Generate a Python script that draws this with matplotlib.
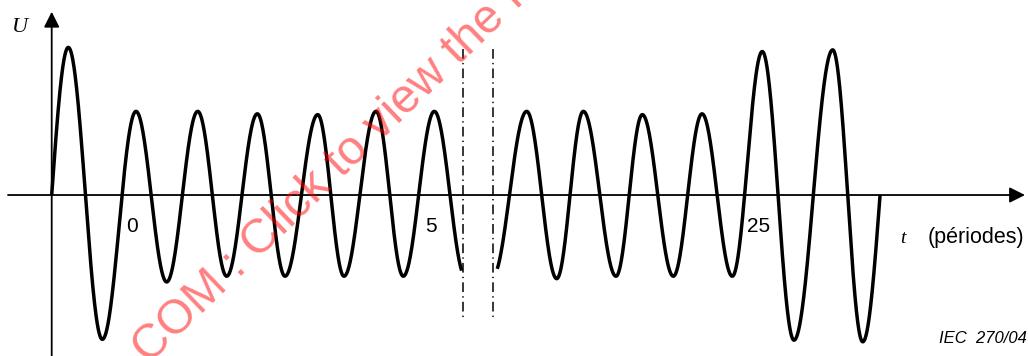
import numpy as np
import matplotlib
matplotlib.use("Agg")
import matplotlib.pyplot as plt

plt.rcParams['lines.scale_dashes'] = False

# ---------------- data (time in periods, U in units of the steady amplitude) ----------------
# part before the axis break: extremes of the recorded voltage
seg1_t = [-1.412, -1.134, -0.564, 0.000, 0.514, 1.034, 1.519, 2.032, 2.496, 3.044, 3.484, 4.020, 4.477, 4.997, 5.520]
seg1_u = [0.00, 1.80, -1.76, 1.02, -1.06, 1.02, -0.99, 0.99, -0.99, 0.98, -0.99, 1.02, -0.99, 1.02, -1.00]
seg1_end = 5.456
# part after the axis break
seg2_t = [20.48, 21.054, 21.557, 22.003, 22.550, 22.991, 23.510, 23.991, 24.498, 25.000, 25.531, 26.180, 26.683, 26.973]
seg2_u = [-1.00, 1.02, -1.02, 1.02, -0.99, 0.98, -0.99, 0.99, -0.99, 1.75, -1.77, 1.77, -1.79, 0.00]
seg2_start = 20.562
break_lines = [5.472, 20.495]          # dash-dot break markers (periods)
tick_values = [0, 5, 25]
tick_labels = ["0", "5", "25"]
break_shift = 14.51                     # periods hidden by the axis break


def to_plot(t):
    t = np.asarray(t, dtype=float)
    return np.where(t > 5.75, t - break_shift, t)


def wave(tn, un, tmin, tmax, n=120):
    ts, us = [], []
    for i in range(len(tn) - 1):
        t0, t1, u0, u1 = tn[i], tn[i + 1], un[i], un[i + 1]
        s = np.linspace(0, 1, n)
        if u0 == 0:
            u = u1 * np.sin(np.pi / 2 * s)
        elif u1 == 0:
            u = u0 * np.cos(np.pi / 2 * s)
        else:
            u = (u0 + u1) / 2 + (u0 - u1) / 2 * np.cos(np.pi * s)
        ts.append(t0 + (t1 - t0) * s)
        us.append(u)
    t = np.concatenate(ts)
    u = np.concatenate(us)
    m = (t >= tmin) & (t <= tmax)
    return t[m], u[m]


fig = plt.figure(figsize=(10.28, 3.56), dpi=100)
ax = fig.add_axes([0, 0, 1, 1])
ax.set_xlim(-2.278, 14.941)
ax.set_ylim(-1.963, 2.378)
ax.axis('off')

# axes with arrows
yaxis_x = seg1_t[0]
arrow = dict(arrowstyle='-|>,head_length=0.6,head_width=0.3', mutation_scale=15.6,
             lw=1.3, color='black', shrinkA=0, shrinkB=0)
ax.annotate('', xy=(14.891, 0), xytext=(-2.144, 0), arrowprops=arrow, zorder=2)
ax.annotate('', xy=(yaxis_x, 2.235), xytext=(yaxis_x, -1.963), arrowprops=arrow, zorder=2)

# waveform
t1, u1 = wave(seg1_t, seg1_u, seg1_t[0], seg1_end)
ax.plot(to_plot(t1), u1, color='black', lw=2.5, solid_capstyle='butt', zorder=3)
t2, u2 = wave(seg2_t, seg2_u, seg2_start, seg2_t[-1])
ax.plot(to_plot(t2), u2, color='black', lw=2.5, solid_capstyle='butt', zorder=3)

# break markers
for b in break_lines:
    ax.plot([to_plot(b)] * 2, [1.78, -1.50], color='black', lw=1.1,
            ls=(0, (7, 3, 1, 3)), zorder=2)

# tick labels
for v, lab in zip(tick_values, tick_labels):
    ax.text(float(to_plot(v)) - 0.06, -0.457, lab, ha='center', va='baseline',
            fontsize=15, family='Liberation Sans')

# axis labels
fig.text(12 / 1028, 1 - 31.7 / 356, 'U', family='Liberation Serif', style='italic',
         fontsize=16, ha='left', va='baseline')
fig.text(900 / 1028, 1 - 243 / 356, 't', family='Liberation Serif', style='italic',
         fontsize=14, ha='left', va='baseline')
fig.text(928 / 1028, 1 - 243 / 356, '(périodes)', family='Liberation Sans',
         fontsize=15.5, ha='left', va='baseline')
fig.text(1027 / 1028, 1 - 343.3 / 356, 'IEC  270/04', family='Liberation Sans',
         style='italic', fontsize=12, ha='right', va='baseline')

# watermark
ax.text(0.218, -2.068, 'COM : Click to view the full PDF', color=(1, 0, 0, 0.5),
        fontsize=34.5, family='Liberation Sans', rotation=44, rotation_mode='anchor',
        ha='left', va='baseline', zorder=5, clip_on=True)

fig.savefig('out.png', dpi=100)
